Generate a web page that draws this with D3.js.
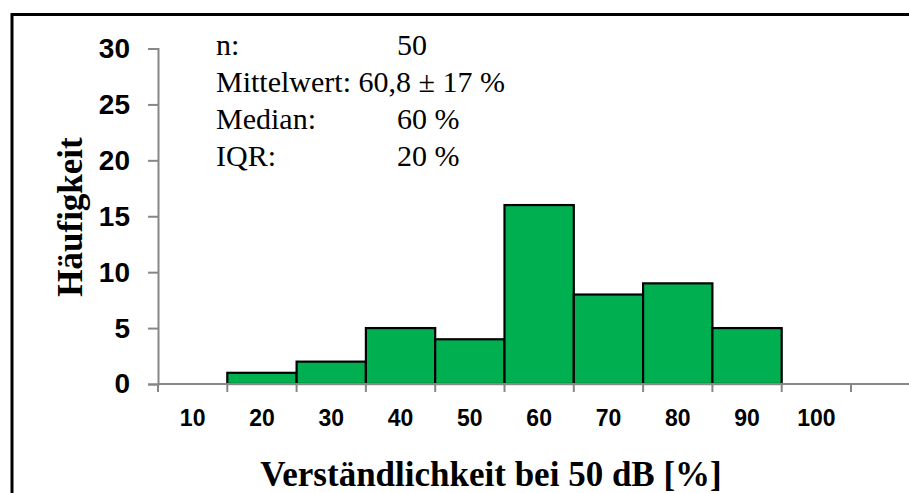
<!DOCTYPE html>
<html>
<head>
<meta charset="utf-8">
<script src="https://cdn.jsdelivr.net/npm/d3@7"></script>
<style>
  body { margin: 0; background: #fff; }
  svg { display: block; }
</style>
</head>
<body>
<svg width="909" height="493"></svg>
<script>
// histogram data
var categories = ["10", "20", "30", "40", "50", "60", "70", "80", "90", "100"];
var counts = [0, 1, 2, 5, 4, 16, 8, 9, 5, 0];
var yTicks = [0, 5, 10, 15, 20, 25, 30];

// summary box
var statLabels = ["n:", "Mittelwert:", "Median:", "IQR:"];
var statValues = ["50", "60,8 ± 17 %", "60 %", "20 %"];

var svg = d3.select("svg"),
    width = +svg.attr("width"),
    height = +svg.attr("height");

var axisGrey = "#878787",
    sans = "'Liberation Sans', Arial, sans-serif",
    serif = "'Liberation Serif', 'Times New Roman', serif";

// outer frame (runs off the right / bottom edge)
svg.append("rect")
    .attr("x", 12)
    .attr("y", 14.5)
    .attr("width", width + 20)
    .attr("height", height + 20)
    .attr("fill", "none")
    .attr("stroke", "#000")
    .attr("stroke-width", 3);

var x = d3.scaleBand()
    .domain(categories)
    .range([158, 851])
    .padding(0);

var y = d3.scaleLinear()
    .domain([0, 30])
    .range([384, 48.5]);

var data = categories.map(function (c, i) { return { cat: c, n: counts[i] }; });

// bars
svg.append("g")
    .selectAll("rect")
    .data(data.filter(function (d) { return d.n > 0; }))
    .enter().append("rect")
    .attr("x", function (d) { return x(d.cat); })
    .attr("width", x.bandwidth())
    .attr("y", function (d) { return y(d.n); })
    .attr("height", function (d) { return y(0) - y(d.n); })
    .attr("fill", "#00B050")
    .attr("stroke", "#000")
    .attr("stroke-width", 2.2);

// y axis
var gy = svg.append("g")
    .attr("transform", "translate(158,0)")
    .call(d3.axisLeft(y).tickValues(yTicks).tickSize(10).tickPadding(18));
gy.select(".domain").attr("stroke", axisGrey).attr("stroke-width", 2);
gy.selectAll(".tick line").attr("stroke", axisGrey).attr("stroke-width", 2);
gy.selectAll(".tick text")
    .attr("font-family", sans)
    .attr("font-weight", "bold")
    .attr("font-size", 28)
    .attr("fill", "#000");

// x axis: labels centred in bins, ticks on bin edges
var gx = svg.append("g")
    .attr("transform", "translate(0," + y(0) + ")")
    .call(d3.axisBottom(x).tickSize(0).tickPadding(26));
gx.select(".domain").remove();
gx.selectAll(".tick text")
    .attr("font-family", sans)
    .attr("font-weight", "bold")
    .attr("font-size", 23)
    .attr("fill", "#000");

gx.append("line")
    .attr("x1", x.range()[0])
    .attr("x2", width)
    .attr("stroke", axisGrey)
    .attr("stroke-width", 2);

var edges = categories.map(function (c) { return x(c); }).concat([x.range()[1]]);
gx.selectAll(".edge")
    .data(edges)
    .enter().append("line")
    .attr("class", "edge")
    .attr("x1", function (d) { return d; })
    .attr("x2", function (d) { return d; })
    .attr("y1", 0)
    .attr("y2", 8)
    .attr("stroke", axisGrey)
    .attr("stroke-width", 2);

// axis titles
svg.append("text")
    .attr("x", 491)
    .attr("y", 486)
    .attr("text-anchor", "middle")
    .attr("font-family", serif)
    .attr("font-weight", "bold")
    .attr("font-size", 35)
    .text("Verständlichkeit bei 50 dB [%]");

svg.append("text")
    .attr("transform", "translate(82,217) rotate(-90)")
    .attr("text-anchor", "middle")
    .attr("font-family", serif)
    .attr("font-weight", "bold")
    .attr("font-size", 35)
    .text("Häufigkeit");

// stats block
var stats = svg.append("g")
    .attr("font-family", serif)
    .attr("font-size", 30)
    .attr("fill", "#000");

statLabels.forEach(function (lab, i) {
    var t = stats.append("text")
        .attr("x", 216)
        .attr("y", 55 + i * 37);
    t.append("tspan").text(lab);
    var v = t.append("tspan").text((lab === "Mittelwert:" ? " " : "") + statValues[i]);
    if (lab !== "Mittelwert:") v.attr("x", 397);
});
</script>
</body>
</html>
